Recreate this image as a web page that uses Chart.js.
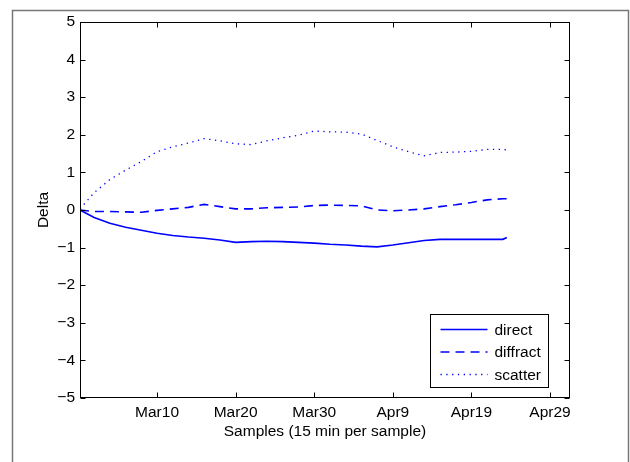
<!DOCTYPE html>
<html>
<head>
<meta charset="utf-8">
<script src="https://cdn.jsdelivr.net/npm/chart.js@4"></script>
<style>
  body { margin: 0; background: #fff; }
  canvas { display: block; }
</style>
</head>
<body>
<canvas id="deltaChart" width="630" height="462"></canvas>
<script>
// day offsets (Mar 0 = 0)
const days = [0.2, 2, 4, 6, 8, 10, 12, 14, 16, 18, 20, 22, 24, 26, 28, 30, 32, 34, 36, 38, 40, 42, 44, 46, 48, 50, 52, 54, 54.5];
const direct = [0, -0.2, -0.35, -0.46, -0.54, -0.62, -0.68, -0.72, -0.75, -0.8, -0.86, -0.84, -0.83, -0.84, -0.86, -0.88, -0.91, -0.93, -0.96, -0.98, -0.93, -0.87, -0.81, -0.78, -0.78, -0.78, -0.78, -0.78, -0.73];
const diffract = [0, -0.04, -0.04, -0.05, -0.06, -0.01, 0.03, 0.07, 0.15, 0.09, 0.03, 0.03, 0.06, 0.07, 0.08, 0.12, 0.13, 0.12, 0.11, 0.0, -0.02, 0.0, 0.03, 0.09, 0.14, 0.2, 0.27, 0.3, 0.3];
const scatter = [0.03, 0.46, 0.81, 1.06, 1.29, 1.55, 1.68, 1.78, 1.9, 1.84, 1.76, 1.74, 1.84, 1.92, 1.99, 2.1, 2.08, 2.07, 2.02, 1.85, 1.68, 1.55, 1.44, 1.53, 1.54, 1.56, 1.61, 1.61, 1.6];

const tickDays = [10, 20, 30, 40, 50, 60];
const tickLabels = ["Mar10", "Mar20", "Mar30", "Apr9", "Apr19", "Apr29"];
const yTicks = [-5, -4, -3, -2, -1, 0, 1, 2, 3, 4, 5];

const FONT = "'Liberation Sans', Arial, Helvetica, sans-serif";

function pts(vals) {
  return days.map((d, i) => ({ x: d, y: vals[i] }));
}

// matlab style box, inward ticks, legend box and outer figure border
const matlabFrame = {
  id: "matlabFrame",
  beforeDraw(chart) {
    const ctx = chart.ctx;
    ctx.save();
    ctx.fillStyle = "#fff";
    ctx.fillRect(0, 0, chart.width, chart.height);
    ctx.strokeStyle = "#777";
    ctx.lineWidth = 1.5;
    ctx.strokeRect(12.5, 10.5, 616, 470);
    ctx.restore();
  },
  afterDatasetsDraw(chart) {
    const { ctx, chartArea: a, scales: { x, y } } = chart;
    const L = Math.round(a.left) + 0.5, R = Math.round(a.right) - 0.5;
    const T = Math.round(a.top) + 0.5, B = Math.round(a.bottom) - 0.5;
    ctx.save();
    ctx.strokeStyle = "#000";
    ctx.lineWidth = 1;
    ctx.setLineDash([]);
    ctx.strokeRect(L, T, R - L, B - T);
    ctx.beginPath();
    tickDays.forEach(d => {
      const px = Math.round(x.getPixelForValue(d)) + 0.5;
      ctx.moveTo(px, B); ctx.lineTo(px, B - 5);
      ctx.moveTo(px, T); ctx.lineTo(px, T + 5);
    });
    yTicks.forEach(v => {
      const py = Math.round(y.getPixelForValue(v)) + 0.5;
      ctx.moveTo(L, py); ctx.lineTo(L + 5, py);
      ctx.moveTo(R, py); ctx.lineTo(R - 5, py);
    });
    ctx.stroke();

    // legend
    const bw = 118, bh = 73;
    const bx = Math.round(a.right - 22 - bw) + 0.5;
    const by = Math.round(a.bottom - 11 - bh) + 0.5;
    ctx.fillStyle = "#fff";
    ctx.fillRect(bx, by, bw, bh);
    ctx.strokeRect(bx, by, bw, bh);
    ctx.font = "15.5px " + FONT;
    ctx.textBaseline = "middle";
    ctx.textAlign = "left";
    chart.data.datasets.forEach((ds, i) => {
      const ly = by + 15 + i * 22.5;
      ctx.strokeStyle = ds.borderColor;
      ctx.lineWidth = ds.borderWidth;
      ctx.setLineDash(ds.borderDash || []);
      ctx.beginPath();
      ctx.moveTo(bx + 10, ly);
      ctx.lineTo(bx + 57, ly);
      ctx.stroke();
      ctx.fillStyle = "#000";
      ctx.fillText(ds.label, bx + 64, ly + 1);
    });
    ctx.restore();
  }
};

new Chart(document.getElementById("deltaChart").getContext("2d"), {
  type: "line",
  data: {
    datasets: [
      { label: "direct", data: pts(direct), borderColor: "#0000ff", borderWidth: 1.6, pointRadius: 0, tension: 0 },
      { label: "diffract", data: pts(diffract), borderColor: "#0000ff", borderWidth: 1.6, borderDash: [9, 6], pointRadius: 0, tension: 0 },
      { label: "scatter", data: pts(scatter), borderColor: "#0000ff", borderWidth: 1.3, borderDash: [1.3, 4.5], pointRadius: 0, tension: 0 }
    ]
  },
  options: {
    responsive: false,
    animation: false,
    layout: { padding: { left: 0, right: 60, top: 22, bottom: 0 } },
    plugins: { legend: { display: false }, tooltip: { enabled: false } },
    scales: {
      x: {
        type: "linear",
        min: 0.2,
        max: 62.54,
        grid: { display: false, drawTicks: false },
        border: { display: false },
        afterBuildTicks: s => { s.ticks = tickDays.map(v => ({ value: v })); },
        afterFit: s => { s.height = 64; },
        ticks: {
          autoSkip: false,
          maxRotation: 0,
          padding: 5,
          color: "#000",
          font: { family: FONT, size: 15.5 },
          callback: v => tickLabels[tickDays.indexOf(v)]
        },
        title: {
          display: true,
          text: "Samples (15 min per sample)",
          color: "#000",
          font: { family: FONT, size: 15.5 },
          padding: { top: 0, bottom: 21 }
        }
      },
      y: {
        min: -5,
        max: 5,
        grid: { display: false, drawTicks: false },
        border: { display: false },
        afterBuildTicks: s => { s.ticks = yTicks.map(v => ({ value: v })); },
        afterFit: s => { s.width = 80; },
        ticks: {
          padding: 5,
          color: "#000",
          font: { family: FONT, size: 15.5 },
          callback: v => (v < 0 ? "\u2212" + Math.abs(v) : String(v))
        },
        title: {
          display: true,
          text: "Delta",
          color: "#000",
          font: { family: FONT, size: 15.5 },
          padding: { top: 34, bottom: 0 }
        }
      }
    }
  },
  plugins: [matlabFrame]
});
</script>
</body>
</html>
